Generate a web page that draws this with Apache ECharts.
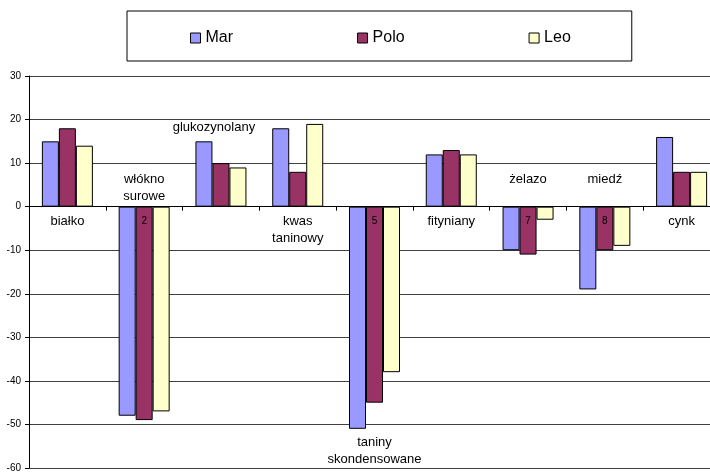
<!DOCTYPE html>
<html>
<head>
<meta charset="utf-8">
<script src="https://cdn.jsdelivr.net/npm/echarts@6/dist/echarts.min.js"></script>
<style>
  html, body { margin: 0; padding: 0; background: #fff; }
  #chart { width: 710px; height: 472px; }
</style>
</head>
<body>
<div id="chart"></div>
<script>
// Categories (with line breaks used for the on-plot name labels)
const categories = ['białko', 'włókno\nsurowe', 'glukozynolany', 'kwas\ntaninowy', 'taniny\nskondensowane', 'fityniany', 'żelazo', 'miedź', 'cynk'];
// Numeric category tick labels that remain visible next to the zero line
const tickLabels = ['', '2', '', '', '5', '', '7', '8', ''];
// Series values
const mar  = [15, -48, 15, 18, -51, 12, -10, -19, 16];
const polo = [18, -49, 10,  8, -45, 13, -11, -10,  8];
const leo  = [14, -47,  9, 19, -38, 12,  -3,  -9,  8];
// Where each category's name sits relative to the axis / its bars
const namePlacement = ['belowAxis', 'aboveAxis', 'aboveBars', 'belowAxis', 'belowBars', 'belowAxis', 'aboveAxis', 'aboveAxis', 'belowAxis'];

const FONT = '"Liberation Sans", Arial, sans-serif';
const chart = echarts.init(document.getElementById('chart'), null, { renderer: 'canvas' });

const barStyle = (color) => ({ color: color, borderColor: '#000', borderWidth: 1 });

chart.setOption({
  animation: false,
  backgroundColor: '#fff',
  textStyle: { fontFamily: FONT },
  legend: {
    data: ['Mar', 'Polo', 'Leo'],
    left: 127,
    top: 11,
    orient: 'horizontal',
    padding: [19, 61, 15, 63],
    itemGap: 124,
    itemWidth: 10,
    itemHeight: 10,
    borderColor: '#000',
    borderWidth: 1,
    textStyle: { fontSize: 16, color: '#000', fontFamily: FONT },
    icon: 'rect',
    itemStyle: { borderColor: '#000', borderWidth: 1 }
  },
  grid: { left: 29, right: -10, top: 76, bottom: 4, containLabel: false, outerBoundsMode: 'none' },
  xAxis: {
    type: 'category',
    data: categories,
    z: 3,
    axisLine: { onZero: true, lineStyle: { color: '#000', width: 1 } },
    axisTick: { show: true, interval: 0, length: 4, lineStyle: { color: '#000' } },
    axisLabel: { show: false },
    splitLine: { show: false }
  },
  yAxis: {
    type: 'value',
    min: -60,
    max: 30,
    interval: 10,
    axisLine: { show: true, lineStyle: { color: '#000', width: 1 } },
    axisTick: { show: true, length: 4, lineStyle: { color: '#000' } },
    axisLabel: { fontSize: 10, color: '#000', margin: 8, fontFamily: FONT },
    splitLine: { show: true, lineStyle: { color: '#404040', width: 1 } }
  },
  series: [
    { name: 'Mar',  type: 'bar', data: mar,  barWidth: 17, barGap: '0%', itemStyle: barStyle('#9999FF') },
    { name: 'Polo', type: 'bar', data: polo, barWidth: 17, barGap: '0%', itemStyle: barStyle('#993366') },
    { name: 'Leo',  type: 'bar', data: leo,  barWidth: 17, barGap: '0%', itemStyle: barStyle('#FFFFCC') },
    {
      name: 'names',
      type: 'custom',
      z: 4,
      data: categories.map((c, i) => [i, 0]),
      encode: { x: 0, y: 1 },
      renderItem: function (params, api) {
        const i = params.dataIndex;
        const base = api.coord([i, 0]);
        const x = base[0];
        const hi = Math.max(mar[i], polo[i], leo[i]);
        const lo = Math.min(mar[i], polo[i], leo[i]);
        let y, va = 'top', dx = 0;
        switch (namePlacement[i]) {
          case 'belowAxis': y = base[1] + 6; break;
          case 'aboveAxis': y = base[1] - 36; break;
          case 'aboveBars': y = api.coord([i, hi])[1] - 5; va = 'bottom'; dx = -7; break;
          case 'belowBars': y = api.coord([i, lo])[1] + 5; break;
        }
        const children = [{
          type: 'text',
          x: x + dx,
          y: y,
          style: {
            text: categories[i],
            align: 'center',
            verticalAlign: va,
            font: '13px ' + FONT,
            lineHeight: 17,
            fill: '#000'
          }
        }];
        if (tickLabels[i]) {
          children.push({
            type: 'text',
            x: x,
            y: base[1] + 15,
            style: {
              text: tickLabels[i],
              align: 'center',
              verticalAlign: 'middle',
              font: '10px ' + FONT,
              fill: '#000'
            }
          });
        }
        return { type: 'group', children: children };
      }
    }
  ]
});
</script>
</body>
</html>
